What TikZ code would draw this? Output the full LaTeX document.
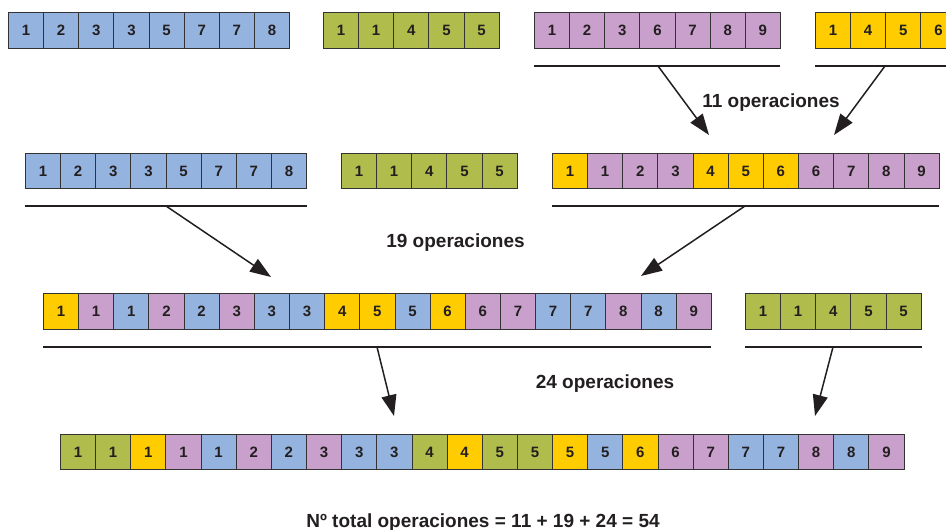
\documentclass[tikz,border=0pt]{standalone}
\usepackage{fontspec}
\setmainfont{Liberation Sans}
\usetikzlibrary{arrows.meta}
\definecolor{cB}{HTML}{95B3DF}
\definecolor{cG}{HTML}{B0BC4B}
\definecolor{cP}{HTML}{C9A0CB}
\definecolor{cY}{HTML}{FFCC00}
\definecolor{txt}{HTML}{231F20}
\definecolor{cellline}{HTML}{333333}
\newcommand\cellrow[4]{\foreach \v/\c [count=\i] in {#4} {\node[cell, fill=\c] (#1-\i) at ({#2+(\i-1)*35.15},#3) {\bfseries\v};}}
\begin{document}
\begin{tikzpicture}[x=1pt,y=-1pt,
 cell/.style={draw=cellline, line width=0.8pt, minimum width=35.15pt, minimum height=35.5pt, inner sep=0pt, font=\fontsize{15}{16}\selectfont\bfseries, text=txt, anchor=west},
 lbl/.style={font=\fontsize{19}{22}\selectfont\bfseries, text=txt, anchor=base},
 uline/.style={line width=1.8pt, draw=txt},
 arr/.style={line width=1.5pt, draw=txt, -{Triangle[length=21pt,width=15pt]}}]
\useasboundingbox (0,0) rectangle (946,530);
\clip (0,0) rectangle (946,530);
% row 1
\cellrow{r1a}{8}{30.5}{1/cB,2/cB,3/cB,3/cB,5/cB,7/cB,7/cB,8/cB}
\cellrow{r1b}{323}{30.5}{1/cG,1/cG,4/cG,5/cG,5/cG}
\cellrow{r1c}{534}{30.5}{1/cP,2/cP,3/cP,6/cP,7/cP,8/cP,9/cP}
\cellrow{r1d}{815}{30.5}{1/cY,4/cY,5/cY,6/cY}
% row 2
\cellrow{r2a}{25}{171}{1/cB,2/cB,3/cB,3/cB,5/cB,7/cB,7/cB,8/cB}
\cellrow{r2b}{341}{171}{1/cG,1/cG,4/cG,5/cG,5/cG}
\cellrow{r2c}{552}{171}{1/cY,1/cP,2/cP,3/cP,4/cY,5/cY,6/cY,6/cP,7/cP,8/cP,9/cP}
% row 3
\cellrow{r3a}{43}{311.5}{1/cY,1/cP,1/cB,2/cP,2/cB,3/cP,3/cB,3/cB,4/cY,5/cY,5/cB,6/cY,6/cP,7/cP,7/cB,7/cB,8/cP,8/cB,9/cP}
\cellrow{r3b}{745}{311.5}{1/cG,1/cG,4/cG,5/cG,5/cG}
% row 4
\cellrow{r4}{60}{452}{1/cG,1/cG,1/cY,1/cP,1/cB,2/cP,2/cB,3/cP,3/cB,3/cB,4/cG,4/cY,5/cG,5/cG,5/cY,5/cB,6/cY,6/cP,7/cP,7/cB,7/cB,8/cP,8/cB,9/cP}
% underlines
\coordinate (u1a) at (534,66); \coordinate (u1b) at (780,66);
\coordinate (u1c) at (815,66); \coordinate (u1d) at (960,66);
\coordinate (u2a) at (25,206); \coordinate (u2b) at (307,206);
\coordinate (u2c) at (552,206); \coordinate (u2d) at (939,206);
\coordinate (u3a) at (43,347); \coordinate (u3b) at (711,347);
\coordinate (u3c) at (745,347); \coordinate (u3d) at (922,347);
\draw[uline] (u1a) -- (u1b);
\draw[uline] (u1c) -- (u1d);
\draw[uline] (u2a) -- (u2b);
\draw[uline] (u2c) -- (u2d);
\draw[uline] (u3a) -- (u3b);
\draw[uline] (u3c) -- (u3d);
% arrows
\coordinate (s1) at (658,66);  \coordinate (t1) at (709,135);
\coordinate (s2) at (885,66);  \coordinate (t2) at (834,135);
\coordinate (s3) at (166,206); \coordinate (t3) at (271,277);
\coordinate (s4) at (745,206); \coordinate (t4) at (641,276);
\coordinate (s5) at (377,347); \coordinate (t5) at (394,416);
\coordinate (s6) at (833,347); \coordinate (t6) at (815,416);
\draw[arr] (s1) -- (t1);
\draw[arr] (s2) -- (t2);
\draw[arr] (s3) -- (t3);
\draw[arr] (s4) -- (t4);
\draw[arr] (s5) -- (t5);
\draw[arr] (s6) -- (t6);
% labels
\node[lbl] (l1) at (771,107) {11 operaciones};
\node[lbl] (l2) at (455.5,247) {19 operaciones};
\node[lbl] (l3) at (605,388) {24 operaciones};
\node[lbl] (l4) at (483,527) {Nº total operaciones = 11 + 19 + 24 = 54};
\end{tikzpicture}
\end{document}
